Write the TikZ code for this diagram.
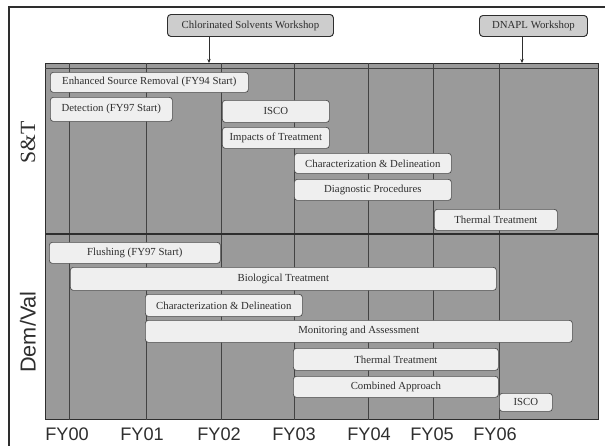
\documentclass[tikz,border=0pt]{standalone}
\usepackage{fontspec}
\setmainfont{Liberation Serif}
\setsansfont{Liberation Sans}
\usetikzlibrary{arrows.meta}
\definecolor{panelgray}{HTML}{9A9A9A}
\definecolor{boxfill}{HTML}{EFEFEF}
\definecolor{shopfill}{HTML}{CDCDCD}
\definecolor{inkgray}{HTML}{2E2E2E}
\tikzset{
  barbox/.style={draw=inkgray!85, fill=boxfill, rounded corners=2.5pt, line width=0.6pt,
    inner sep=0pt, anchor=north west, text=inkgray, font=\fontsize{9.2}{10}\selectfont},
  shopbox/.style={draw=inkgray, fill=shopfill, rounded corners=3pt, line width=0.8pt,
    inner sep=0pt, anchor=north west, text=inkgray, font=\fontsize{9.2}{10}\selectfont},
  panelbox/.style={draw=inkgray, fill=panelgray, line width=0.9pt, inner sep=0pt, anchor=north west},
  gridline/.style={draw=inkgray!90, line width=0.6pt},
  divider/.style={draw=inkgray, line width=1.3pt},
  shoparrow/.style={draw=inkgray, line width=0.8pt, -{Stealth[length=3.5pt,width=3pt]}},
  yearlbl/.style={font=\sffamily\fontsize{15.5}{16}\selectfont, text=inkgray},
  sidelbl/.style={rotate=90, text=inkgray},
  framebox/.style={draw=inkgray, line width=1.3pt}
}
\newcommand\mkbox[7]{%
  \node[#1, minimum width={(#5-#3)*0.03cm}, minimum height={(#6-#4)*0.03cm}] (#2) at (#3,#4) {#7};}
\begin{document}
\begin{tikzpicture}[x=0.03cm, y=-0.03cm]
\useasboundingbox (0,0) rectangle (605,446);
\fill[white] (0,0) rectangle (605,446);
% outer frame (right and bottom sides lie outside the picture)
\draw[framebox] (9,446) -- (9,7) -- (605,7);
% panel
\mkbox{panelbox}{panel}{45}{63}{598}{419}{}
\draw[gridline] (panel.west |- 0,68) -- (panel.east |- 0,68);
% year grid lines
\foreach \n/\x in {0/69,1/146,2/221,3/294,4/368,5/433,6/499}{
  \coordinate (g\n) at (\x,0);
  \draw[gridline] (panel.north -| g\n) -- (panel.south -| g\n);
}
\coordinate (div) at (0,234);
\draw[divider] (panel.west |- div) -- (panel.east |- div);
% workshops
\mkbox{shopbox}{cws}{167}{14}{333}{36}{Chlorinated Solvents Workshop}
\mkbox{shopbox}{dws}{479}{15}{587}{36}{DNAPL Workshop}
\coordinate (a1) at (209,0);
\coordinate (a2) at (522,0);
\draw[shoparrow] (cws.south -| a1) -- (panel.north -| a1);
\draw[shoparrow] (dws.south -| a2) -- (panel.north -| a2);
% S&T bars
\mkbox{barbox}{st1}{50}{72}{248}{92}{Enhanced Source Removal (FY94 Start)}
\mkbox{barbox}{st2}{50}{97}{172}{121}{Detection (FY97 Start)}
\mkbox{barbox}{st3}{222}{100}{329}{122}{ISCO}
\mkbox{barbox}{st4}{222}{127}{329}{148}{Impacts of Treatment}
\mkbox{barbox}{st5}{294}{153}{451}{173}{Characterization \& Delineation}
\mkbox{barbox}{st6}{294}{179}{451}{200}{Diagnostic Procedures}
\mkbox{barbox}{st7}{434}{209}{557}{230}{Thermal Treatment}
% Dem/Val bars
\mkbox{barbox}{dv1}{49}{242}{220}{263}{Flushing (FY97 Start)}
\mkbox{barbox}{dv2}{70}{267}{496}{290}{Biological Treatment}
\mkbox{barbox}{dv3}{145}{294}{302}{316}{Characterization \& Delineation}
\mkbox{barbox}{dv4}{145}{320}{572}{342}{Monitoring and Assessment}
\mkbox{barbox}{dv5}{293}{348}{498}{370}{Thermal Treatment}
\mkbox{barbox}{dv6}{293}{376}{498}{397}{Combined Approach}
\mkbox{barbox}{dv7}{499}{393}{552}{411}{ISCO}
% side labels
\node[sidelbl, font=\fontsize{18.5}{19}\selectfont] (stl) at (28,142) {S\&T};
\node[sidelbl, font=\sffamily\fontsize{18.5}{19}\selectfont] (dvl) at (28,332) {Dem/Val};
% year labels
\foreach \n/\x in {0/67,1/142,2/219,3/294,4/369,5/432,6/495}{
  \node[yearlbl] (fy\n) at (\x,434) {FY0\n};
}
\end{tikzpicture}
\end{document}
